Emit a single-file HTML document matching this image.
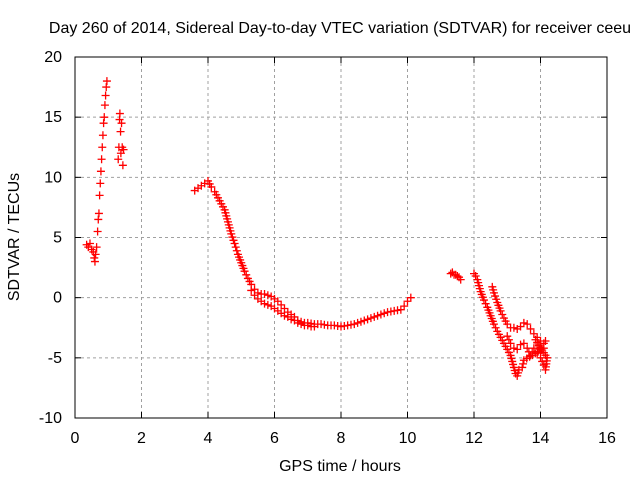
<!DOCTYPE html>
<html><head><meta charset="utf-8"><style>
html,body{margin:0;padding:0;background:#fff;}
svg text{font-family:"Liberation Sans",sans-serif;font-size:16px;fill:#000;}
</style></head><body>
<svg id="chart" width="640" height="480" xmlns="http://www.w3.org/2000/svg">
<rect width="640" height="480" fill="#fff"/>
<text x="340" y="33" text-anchor="middle">Day 260 of 2014, Sidereal Day-to-day VTEC variation (SDTVAR) for receiver ceeu</text>
<g id="grid"></g>
<g id="ticks"></g>
<g id="marks"></g>
<rect x="75" y="57" width="532" height="361" fill="none" stroke="#000" stroke-width="1"/>
<text x="340" y="471" text-anchor="middle">GPS time / hours</text>
<text transform="translate(19,237) rotate(-90)" text-anchor="middle">SDTVAR / TECUs</text>
</svg>
<script>
const xTicks=[0,2,4,6,8,10,12,14,16];
const yTicks=[-10,-5,0,5,10,15,20];
const hoursA=[0.35,0.4,0.45,0.5,0.55,0.58,0.6,0.62,0.65,0.68,0.7,0.72,0.74,0.76,0.78,0.8,0.82,0.84,0.86,0.88,0.9,0.92,0.94,0.96];
const valsA=[4.4,4.2,4.5,4.0,3.8,3.3,3.0,3.6,4.2,5.5,6.5,7.0,8.5,9.5,10.5,11.5,12.5,13.5,14.5,15.0,16.0,16.8,17.5,18.0];
const hoursB=[1.3,1.32,1.34,1.35,1.37,1.38,1.4,1.42,1.44,1.46];
const valsB=[11.5,12.5,14.8,15.3,13.8,12.0,14.5,12.5,11.0,12.3];
const hoursC=[3.6,3.7,3.8,3.9,4.0,4.1,4.2,4.3,4.4,4.5,4.6,4.7,4.8,4.9,5.0,5.1,5.2,5.3,5.4,5.5,5.6,5.7,5.8,5.9,6.0,6.1,6.2,6.3,6.4,6.5,6.6,6.7,6.8,6.9,7.0,7.2,7.4,7.6,7.8,8.0,8.2,8.4,8.6,8.8,9.0,9.2,9.4,9.6,9.8,9.9,10.0,10.1];
const valsC=[8.9,9.1,9.3,9.5,9.7,9.2,8.8,8.3,7.8,7.3,6.3,5.3,4.5,3.6,2.9,2.2,1.6,1.1,0.7,0.4,0.3,0.3,0.2,0.1,-0.1,-0.3,-0.6,-0.9,-1.2,-1.4,-1.6,-1.9,-2.0,-2.1,-2.1,-2.2,-2.2,-2.3,-2.3,-2.4,-2.3,-2.2,-2.0,-1.8,-1.6,-1.4,-1.2,-1.1,-1.0,-0.7,-0.3,0.0];
const hoursC2=[5.3,5.4,5.5,5.6,5.7,5.8,5.9,6.0,6.1,6.2,6.3,6.4,6.5,6.6,6.7,6.8,6.9,7.0,7.1,7.2];
const valsC2=[0.6,0.2,-0.1,-0.3,-0.5,-0.6,-0.7,-0.9,-1.1,-1.3,-1.5,-1.6,-1.8,-1.9,-2.1,-2.2,-2.3,-2.3,-2.4,-2.4];
const hoursD=[11.3,11.35,11.4,11.45,11.5,11.55,11.6];
const valsD=[2.0,2.1,1.9,1.9,1.8,1.7,1.5];
const hoursE=[12.0,12.05,12.1,12.15,12.2,12.3,12.4,12.5,12.6,12.7,12.8,12.9,13.0,13.1,13.15,13.2,13.25,13.3,13.35];
const valsE=[2.0,1.8,1.5,1.0,0.5,-0.2,-0.8,-1.5,-2.2,-2.8,-3.3,-3.8,-4.3,-4.8,-5.3,-5.8,-6.3,-6.5,-6.0];
const hoursF=[12.55,12.6,12.7,12.8,12.9,13.0,13.1,13.2,13.3,13.4,13.5,13.6,13.7,13.8,13.9,14.0,14.1,14.15];
const valsF=[0.9,0.4,-0.4,-1.1,-1.7,-2.2,-2.5,-2.5,-2.6,-2.4,-2.1,-2.2,-2.6,-3.0,-3.3,-3.6,-3.8,-3.6];
const hoursG=[13.0,13.1,13.2,13.3,13.4,13.5,13.6,13.7,13.8,13.9,14.0,14.05,14.1,14.15,14.2,13.85,13.95,14.0,14.1,13.5,13.45];
const valsG=[-3.2,-3.8,-4.2,-4.3,-3.9,-3.8,-4.2,-4.8,-4.2,-4.6,-5.0,-5.3,-5.6,-6.0,-5.0,-3.5,-4.0,-4.5,-4.2,-5.2,-5.8];
const X0=75,X1=607,Y0=418,Y1=57;
const xs=h=>X0+(h-0)/16*(X1-X0);
const ys=v=>Y0-(v+10)/30*(Y0-Y1);
const NS='http://www.w3.org/2000/svg';
const grid=document.getElementById('grid'),ticks=document.getElementById('ticks'),marks=document.getElementById('marks');
function el(t,a,p){const e=document.createElementNS(NS,t);for(const k in a)e.setAttribute(k,a[k]);p.appendChild(e);return e;}
xTicks.forEach(t=>{const x=xs(t);
 if(t>0&&t<16){const g=el('line',{x1:x,x2:x,y1:Y1,y2:Y0,stroke:'#a0a0a0','stroke-dasharray':'3,3'},grid);
 
 }
 el('line',{x1:x,x2:x,y1:Y0,y2:Y0-6,stroke:'#000'},ticks);el('line',{x1:x,x2:x,y1:Y1,y2:Y1+6,stroke:'#000'},ticks);
 const l=el('text',{x:x,y:443,'text-anchor':'middle'},ticks);l.textContent=t;
 
 });
yTicks.forEach(t=>{const y=ys(t);
 if(t>-10&&t<20){const g=el('line',{x1:X0,x2:X1,y1:y,y2:y,stroke:'#a0a0a0','stroke-dasharray':'3,3'},grid);
 
 }
 el('line',{x1:X0,x2:X0+6,y1:y,y2:y,stroke:'#000'},ticks);el('line',{x1:X1,x2:X1-6,y1:y,y2:y,stroke:'#000'},ticks);
 const l=el('text',{x:62,y:y+5,'text-anchor':'end'},ticks);l.textContent=t;
 
 });
function series(hs,vs,name,dense){
 const g=el('g',{},marks);
 
 
 let d='';
 hs.forEach((h,i)=>{const x=xs(h),y=ys(vs[i]);d+=`M${x-4},${y}h8M${x},${y-4}v8`;
  if(dense&&i<hs.length-1){const x2=xs(hs[i+1]),y2=ys(vs[i+1]);const n=Math.max(1,Math.floor(Math.hypot(x2-x,y2-y)/3));
   for(let k=1;k<n;k++){const xx=x+(x2-x)*k/n,yy=y+(y2-y)*k/n;d+=`M${xx-4},${yy}h8M${xx},${yy-4}v8`;}}});
 el('path',{d:d,stroke:'#f00','stroke-width':1.3,fill:'none'},g);
}
series(hoursA,valsA,'series-a',false);
series(hoursB,valsB,'series-b',false);
series(hoursC,valsC,'series-c',true);
series(hoursC2,valsC2,'series-c2',true);
series(hoursD,valsD,'series-d',true);
series(hoursE,valsE,'series-e',true);
series(hoursF,valsF,'series-f',true);
series(hoursG,valsG,'series-g',true);
</script>
</body></html>
